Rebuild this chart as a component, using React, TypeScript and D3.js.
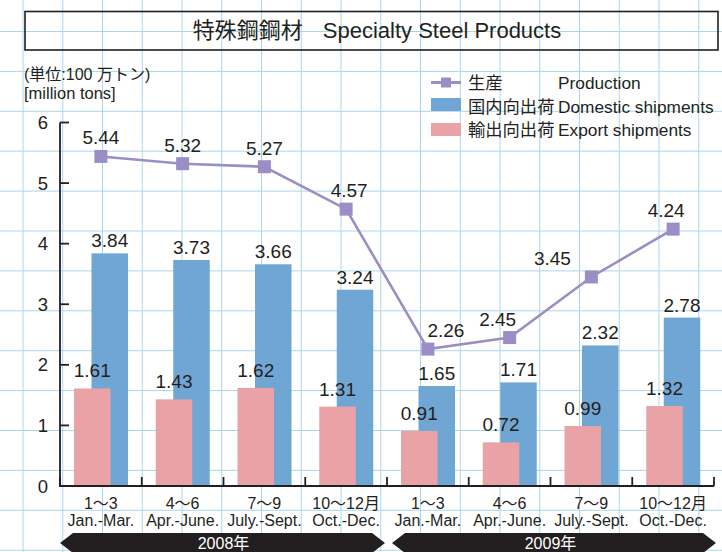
import React, { useEffect, useRef } from "react";
import * as d3 from "d3";

// quarter labels (two lines each)
const periods = ["1〜3", "4〜6", "7〜9", "10〜12月", "1〜3", "4〜6", "7〜9", "10〜12月"];
const periodsEn = [
  "Jan.-Mar.",
  "Apr.-June.",
  "July.-Sept.",
  "Oct.-Dec.",
  "Jan.-Mar.",
  "Apr.-June.",
  "July.-Sept.",
  "Oct.-Dec.",
];
const years = ["2008年", "2009年"];

// 100万トン
const production = [5.44, 5.32, 5.27, 4.57, 2.26, 2.45, 3.45, 4.24];
const domestic = [3.84, 3.73, 3.66, 3.24, 1.65, 1.71, 2.32, 2.78];
const exportShip = [1.61, 1.43, 1.62, 1.31, 0.91, 0.72, 0.99, 1.32];
const yTicks = [0, 1, 2, 3, 4, 5, 6];

// nudges for the production value labels so they don't sit on the line
const prodLabelDx = [0, 0, 0, 3, 18, -12, -39, -7];

const W = 722;
const H = 552;
const FONT = "'Liberation Sans', Arial, 'Noto Sans CJK JP', sans-serif";
const INK = "#231f20";
const PURPLE = "#9b8dc5";
const BLUE = "#70a6d4";
const PINK = "#e9a3a6";
const GRID = "#acd6e8";

function App() {
  const svgRef = useRef<SVGSVGElement>(null);

  useEffect(() => {
    const svg = d3.select(svgRef.current);
    svg.selectAll("*").remove();

    const x = d3
      .scaleBand<number>()
      .domain(d3.range(periods.length))
      .range([60, 714])
      .padding(0);
    const y = d3.scaleLinear().domain([0, 6]).range([486, 122.5]);
    const bw = 36.5;

    // graph paper background
    const grid = svg.append("g").attr("stroke", GRID).attr("stroke-width", 1);
    d3.range(23, W, 39.75).forEach((gx) =>
      grid.append("line").attr("x1", gx).attr("x2", gx).attr("y1", 0).attr("y2", H)
    );
    d3.range(31.5, H, 39.9).forEach((gy) =>
      grid.append("line").attr("y1", gy).attr("y2", gy).attr("x1", 0).attr("x2", W)
    );

    // title box
    svg
      .append("rect")
      .attr("x", 25)
      .attr("y", 11.5)
      .attr("width", 693)
      .attr("height", 38.5)
      .attr("fill", "none")
      .attr("stroke", INK)
      .attr("stroke-width", 1.6);
    const title = svg
      .append("text")
      .attr("x", 377)
      .attr("y", 38)
      .attr("text-anchor", "middle")
      .attr("font-size", 22)
      .attr("fill", INK);
    title.append("tspan").text("特殊鋼鋼材");
    title.append("tspan").attr("dx", 20).text("Specialty Steel Products");

    // unit
    svg
      .append("text")
      .attr("x", 24)
      .attr("y", 80)
      .attr("font-size", 16)
      .attr("fill", INK)
      .text("(単位:100 万トン)");
    svg
      .append("text")
      .attr("x", 24)
      .attr("y", 99)
      .attr("font-size", 16.5)
      .attr("fill", INK)
      .text("[million tons]");

    // bars: domestic behind, export in front
    svg
      .append("g")
      .selectAll("rect")
      .data(domestic)
      .join("rect")
      .attr("x", (d, i) => (x(i) as number) + 31.5)
      .attr("y", (d) => y(d))
      .attr("width", bw)
      .attr("height", (d) => y(0) - y(d))
      .attr("fill", BLUE);
    svg
      .append("g")
      .selectAll("rect")
      .data(exportShip)
      .join("rect")
      .attr("x", (d, i) => (x(i) as number) + 14)
      .attr("y", (d) => y(d))
      .attr("width", bw)
      .attr("height", (d) => y(0) - y(d))
      .attr("fill", PINK);

    // bar value labels
    const valueText = (g: any) =>
      g.attr("text-anchor", "middle").attr("font-size", 19).attr("fill", INK);
    svg
      .append("g")
      .call(valueText)
      .selectAll("text")
      .data(domestic)
      .join("text")
      .attr("x", (d, i) => (x(i) as number) + 31.5 + bw / 2)
      .attr("y", (d) => y(d) - 6)
      .text((d) => d.toFixed(2));
    svg
      .append("g")
      .call(valueText)
      .selectAll("text")
      .data(exportShip)
      .join("text")
      .attr("x", (d, i) => (x(i) as number) + 14 + bw / 2)
      .attr("y", (d) => y(d) - 11)
      .text((d) => d.toFixed(2));

    // axes
    const axis = svg.append("g").attr("stroke", INK).attr("stroke-width", 1.8);
    axis.append("line").attr("x1", 60).attr("x2", 60).attr("y1", y(6)).attr("y2", y(0));
    axis.append("line").attr("x1", 59).attr("x2", 714).attr("y1", y(0)).attr("y2", y(0));
    yTicks.forEach((t) =>
      axis.append("line").attr("x1", 60).attr("x2", 69).attr("y1", y(t)).attr("y2", y(t))
    );
    d3.range(periods.length + 1).forEach((i) => {
      const tx = 60 + i * x.bandwidth();
      axis.append("line").attr("x1", tx).attr("x2", tx).attr("y1", y(0) - 9).attr("y2", y(0));
    });
    svg
      .append("g")
      .attr("font-size", 18.5)
      .attr("fill", INK)
      .attr("text-anchor", "end")
      .selectAll("text")
      .data(yTicks)
      .join("text")
      .attr("x", 48)
      .attr("y", (d) => y(d) + 6.5)
      .text((d) => d);

    // category labels
    const xl = svg
      .append("g")
      .attr("font-size", 16)
      .attr("fill", INK)
      .attr("text-anchor", "middle");
    xl.selectAll("text.jp")
      .data(periods)
      .join("text")
      .attr("class", "jp")
      .attr("x", (d, i) => (x(i) as number) + x.bandwidth() / 2)
      .attr("y", 509)
      .text((d) => d);
    xl.selectAll("text.en")
      .data(periodsEn)
      .join("text")
      .attr("class", "en")
      .attr("x", (d, i) => (x(i) as number) + x.bandwidth() / 2)
      .attr("y", 526)
      .text((d) => d);

    // year arrows
    years.forEach((yr, k) => {
      const x0 = x(k * 4) as number;
      const x1 = (x(k * 4 + 3) as number) + x.bandwidth();
      const l = x0 + (k ? 5 : 0);
      const r = x1 + (k ? 2 : -2);
      const cy = 543;
      svg
        .append("polygon")
        .attr(
          "points",
          [
            [l, cy],
            [l + 13, cy - 10],
            [r - 13, cy - 10],
            [r, cy],
            [r - 13, cy + 10],
            [l + 13, cy + 10],
          ]
            .map((p) => p.join(","))
            .join(" ")
        )
        .attr("fill", INK);
      svg
        .append("text")
        .attr("x", (x0 + x1) / 2)
        .attr("y", 549)
        .attr("text-anchor", "middle")
        .attr("font-size", 16)
        .attr("fill", "#fff")
        .text(yr);
    });

    // production line
    const cx = (i: number) => (x(i) as number) + x.bandwidth() / 2;
    const line = d3
      .line<number>()
      .x((d, i) => cx(i))
      .y((d) => y(d));
    svg
      .append("path")
      .datum(production)
      .attr("d", line)
      .attr("fill", "none")
      .attr("stroke", PURPLE)
      .attr("stroke-width", 2.6);
    svg
      .append("g")
      .selectAll("rect")
      .data(production)
      .join("rect")
      .attr("x", (d, i) => cx(i) - 6.5)
      .attr("y", (d) => y(d) - 6.5)
      .attr("width", 13)
      .attr("height", 13)
      .attr("fill", PURPLE);
    svg
      .append("g")
      .call(valueText)
      .selectAll("text")
      .data(production)
      .join("text")
      .attr("x", (d, i) => cx(i) + prodLabelDx[i])
      .attr("y", (d) => y(d) - 12)
      .text((d) => d.toFixed(2));

    // legend
    const lg = svg.append("g").attr("font-size", 17.3).attr("fill", INK);
    lg.append("line")
      .attr("x1", 431)
      .attr("x2", 461)
      .attr("y1", 82.5)
      .attr("y2", 82.5)
      .attr("stroke", PURPLE)
      .attr("stroke-width", 3);
    lg.append("rect").attr("x", 441).attr("y", 77.5).attr("width", 10).attr("height", 10).attr("fill", PURPLE);
    lg.append("rect").attr("x", 431).attr("y", 98).attr("width", 30).attr("height", 13).attr("fill", BLUE);
    lg.append("rect").attr("x", 431).attr("y", 123).attr("width", 30).attr("height", 13).attr("fill", PINK);
    const items = [
      ["生産", "Production", 88.5],
      ["国内向出荷", "Domestic shipments", 112.5],
      ["輸出向出荷", "Export shipments", 135.5],
    ];
    items.forEach(([jp, en, ty]) => {
      lg.append("text").attr("x", 468).attr("y", ty).text(jp);
      lg.append("text").attr("x", 558).attr("y", ty).text(en);
    });
  }, []);

  return (
    <div style={{ position: "absolute", left: 0, top: 0 }}>
      <svg
        ref={svgRef}
        width={W}
        height={H}
        style={{ display: "block", background: "#fff", fontFamily: FONT }}
      />
    </div>
  );
}

export default App;
